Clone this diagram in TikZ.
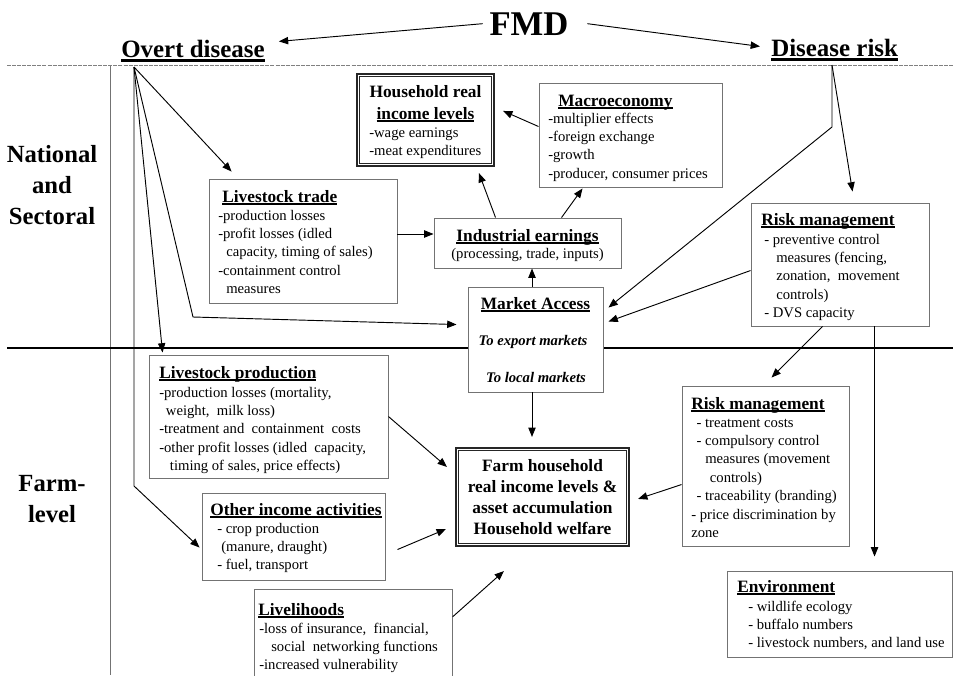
\documentclass[tikz,border=0pt]{standalone}
\usepackage{fontspec}
\setmainfont{Liberation Serif}
\usetikzlibrary{arrows.meta,fit,calc}
\newcommand\hdul[1]{\setbox0\hbox{#1}\rlap{\rule[-2.1pt]{\wd0}{1pt}}\box0}
\newcommand\bigul[1]{\setbox0\hbox{#1}\rlap{\rule[-3.75pt]{\wd0}{2pt}}\box0}
\newcommand\tlines[1]{\begin{tabular}[t]{@{}l@{}}#1\end{tabular}}
\begin{document}
\begin{tikzpicture}[x=0.75pt,y=-0.75pt,
  bx/.style={draw=black!55, line width=0.7pt, fill=white, inner sep=0pt},
  dbx/.style={draw=black!85, line width=1.6pt, fill=white, inner sep=0pt},
  hd/.style={font=\fontsize{13}{15.5}\selectfont\bfseries, inner sep=0pt, anchor=base west},
  hdc/.style={font=\fontsize{13}{15.5}\selectfont\bfseries, inner sep=0pt, anchor=base},
  bd/.style={font=\fontsize{11}{13.8}\selectfont, inner sep=0pt, anchor=base west},
  bdc/.style={font=\fontsize{11}{13.8}\selectfont, inner sep=0pt, anchor=base},
  bi/.style={font=\fontsize{11}{13.8}\selectfont\bfseries\itshape, inner sep=0pt, anchor=base},
  side/.style={font=\fontsize{18.5}{22}\selectfont\bfseries, inner sep=0pt, anchor=base},
  top/.style={font=\fontsize{18.7}{22}\selectfont\bfseries, inner ysep=0pt, anchor=base west},
  arr/.style={-{Triangle[length=7pt,width=5.5pt]}, line width=0.7pt, black},
  ln/.style={line width=0.7pt, black}
]
\useasboundingbox (0,0) rectangle (953,675);

% section lines
\draw[black!50, line width=0.6pt, dash pattern=on 3pt off 0.8pt] (7,65.5) -- (953,65.5);
\draw[black!55, line width=0.6pt] (110.5,65.5) -- (110.5,675);
\draw[black, line width=0.9pt] (7,348) -- (953,348);

% titles
\node[font=\fontsize{26}{30}\selectfont\bfseries, inner sep=5pt, anchor=base] (fmd) at (529,35) {FMD};
\node[top, inner xsep=10.5pt] (overt) at (107,57) {\bigul{Overt disease}};
\node[top, inner xsep=8.25pt] (drisk) at (760,56) {\bigul{Disease risk}};
\coordinate (od) at (134,67);
\coordinate (dr) at (832,65);

% side labels
\node[side] (nat1) at (52,162) {National};
\node[side] (nat2) at (52,193) {and};
\node[side] (nat3) at (52,224) {Sectoral};
\node[side] (fl1) at (52,491) {Farm-};
\node[side] (fl2) at (52,522) {level};

% boxes
\node[dbx, fit={(357,74) (494,166)}] (hh) {};
\draw[black!85, line width=0.6pt] ([shift={(3.5,3.5)}]hh.north west) rectangle ([shift={(-3.5,-3.5)}]hh.south east);
\node[bx, fit={(539,83) (722,187)}] (macro) {};
\node[bx, fit={(209,179) (397,303)}] (ltrade) {};
\node[bx, fit={(434,218) (621,268)}] (ind) {};
\node[bx, fit={(468,287) (603,392)}] (mkt) {};
\node[bx, fit={(751,203) (929,326)}] (rtop) {};
\node[bx, fit={(149,355) (388,478)}] (lprod) {};
\node[bx, fit={(202,493) (385,580)}] (oinc) {};
\node[inner sep=0pt, fit={(255,590) (452,676)}] (lvh) {};
\draw[black!55, line width=0.7pt] (lvh.south west) |- (lvh.north east) -- (lvh.south east);
\node[dbx, fit={(456,448) (629,546)}] (farm) {};
\draw[black!85, line width=0.6pt] ([shift={(3.5,3.5)}]farm.north west) rectangle ([shift={(-3.5,-3.5)}]farm.south east);
\node[bx, fit={(682,386) (849,546)}] (rbot) {};
\node[bx, fit={(727,571) (952.5,657)}] (env) {};

% box texts
\node[hdc] (hht1) at (425.5,97) {Household real};
\node[hdc] (hht2) at (425.5,119) {\hdul{income levels}};
\node[bd] (hhb) at (369,137) {\tlines{-wage earnings\\-meat expenditures}};

\node[hd] (mat) at (558,106) {\hdul{Macroeconomy}};
\node[bd] (mab) at (548,123) {\tlines{-multiplier effects\\-foreign exchange\\-growth\\-producer, consumer prices}};

\node[hd] (ltt) at (222,202) {\hdul{Livestock trade}};
\node[bd] (ltb) at (218,220) {\tlines{-production losses\\-profit losses (idled\\\hspace*{6pt}capacity, timing of sales)\\-containment control\\\hspace*{6pt}measures}};

\node[hdc] (indt) at (527.5,241) {\hdul{Industrial earnings}};
\node[bdc] (indb) at (527.5,258) {(processing, trade, inputs)};

\node[hdc] (mkt1) at (535.5,309) {\hdul{Market Access}};
\node[bi] (mkt2) at (533,345) {To export markets};
\node[bi] (mkt3) at (536,382) {To local markets};

\node[hd] (rtt) at (761,225) {\hdul{Risk management}};
\node[bd] (rtb) at (764,244) {\tlines{- preventive control\\\hspace*{9pt}measures (fencing,\\\hspace*{9pt}zonation,\ \ movement\\\hspace*{9pt}controls)\\- DVS capacity}};

\node[hd] (lpt) at (159,378) {\hdul{Livestock production}};
\node[bd] (lpb) at (159,397) {\tlines{-production losses (mortality,\\\hspace*{5pt}weight,\ \ milk loss)\\-treatment and\ \ containment\ \ costs\\-other profit losses (idled\ \ capacity,\\\hspace*{8pt}timing of sales, price effects)}};

\node[hd] (oit) at (210,515) {\hdul{Other income activities}};
\node[bd] (oib) at (217,533) {\tlines{- crop production\\\hspace*{3pt}(manure, draught)\\- fuel, transport}};

\node[hd] (lvt) at (258,615) {\hdul{Livelihoods}};
\node[bd] (lvb) at (259,633) {\tlines{-loss of insurance,\ \ financial,\\\hspace*{9pt}social\ \ networking functions\\-increased vulnerability}};

\node[hdc] (fa1) at (542.5,471) {Farm household};
\node[hdc] (fa2) at (542.5,492) {real income levels \&};
\node[hdc] (fa3) at (542.5,513) {asset accumulation};
\node[hdc] (fa4) at (542.5,534) {Household welfare};

\node[hd] (rbt) at (691,409) {\hdul{Risk management}};
\node[bd] (rbb) at (691,427) {\tlines{\hspace*{4pt}- treatment costs\\\hspace*{4pt}- compulsory control\\\hspace*{10.5pt}measures (movement\\\hspace*{14pt}controls)\\\hspace*{4pt}- traceability (branding)\\- price discrimination by\\zone}};

\node[hd] (ent) at (737,592) {\hdul{Environment}};
\node[bd] (enb) at (748,611) {\tlines{- wildlife ecology\\- buffalo numbers\\- livestock numbers, and land use}};

% connectors
\draw[arr] (fmd.west) -- ([shift={(0,2)}]overt.north east);
\draw[arr] ([xshift=9pt]fmd.east) -- ([shift={(0,8)}]drisk.north west);

\coordinate (c1) at (193,317);
\coordinate (c2) at (134,486);
\coordinate (c3) at (832,127);
\draw[arr] (od) -- ([shift={(23,-7)}]ltrade.north west);
\draw[arr] (od) -- ([shift={(14,-2)}]lprod.north west);
\draw[arr] (od) -- (c1) -- ([shift={(-11,38)}]mkt.north west);
\draw[arr] (od) -- (c2) -- ([shift={(-2,55)}]oinc.north west);

\draw[arr] ([shift={(0,-7)}]ltrade.east) -- ([shift={(0,-9)}]ind.west);
\draw[arr] ([shift={(62,0)}]ind.north west) -- ([shift={(123,6)}]hh.south west);
\draw[arr] ([shift={(128,0)}]ind.north west) -- ([shift={(44,1)}]macro.south west);
\draw[arr] ([shift={(0,44)}]macro.north west) -- ([shift={(8,38)}]hh.north east);

\coordinate (mtop) at ([shift={(-3.5,0)}]mkt.north);
\coordinate (mbot) at ([shift={(-3.5,0)}]mkt.south);
\draw[arr] (mtop) -- (mtop |- ind.south);
\draw[arr, shorten >=7.5pt] (mbot) -- (mbot |- farm.north);

\draw[arr] (dr) -- (c3) -- ([shift={(5,21)}]mkt.north east);
\draw[arr] (dr) -- ([shift={(102,-11)}]rtop.north west);
\draw[arr] ([shift={(0,68)}]rtop.north west) -- ([shift={(5,35)}]mkt.north east);
\draw[arr] ([shift={(72,0)}]rtop.south west) -- ([shift={(90,-8)}]rbot.north west);
\draw[arr] ([shift={(124,0)}]rtop.south west) -- ([shift={(148,-14)}]env.north west);

\draw[arr] ([shift={(0,62)}]lprod.north east) -- ([shift={(-8,20)}]farm.north west);
\draw[arr] ([shift={(12,57)}]oinc.north east) -- ([shift={(-9,-18)}]farm.south west);
\draw[arr] ([shift={(198,27)}]lvh.north west) -- ([shift={(49,24)}]farm.south west);
\draw[arr] ([shift={(0,99)}]rbot.north west) -- ([shift={(8,52)}]farm.north east);
\end{tikzpicture}
\end{document}
